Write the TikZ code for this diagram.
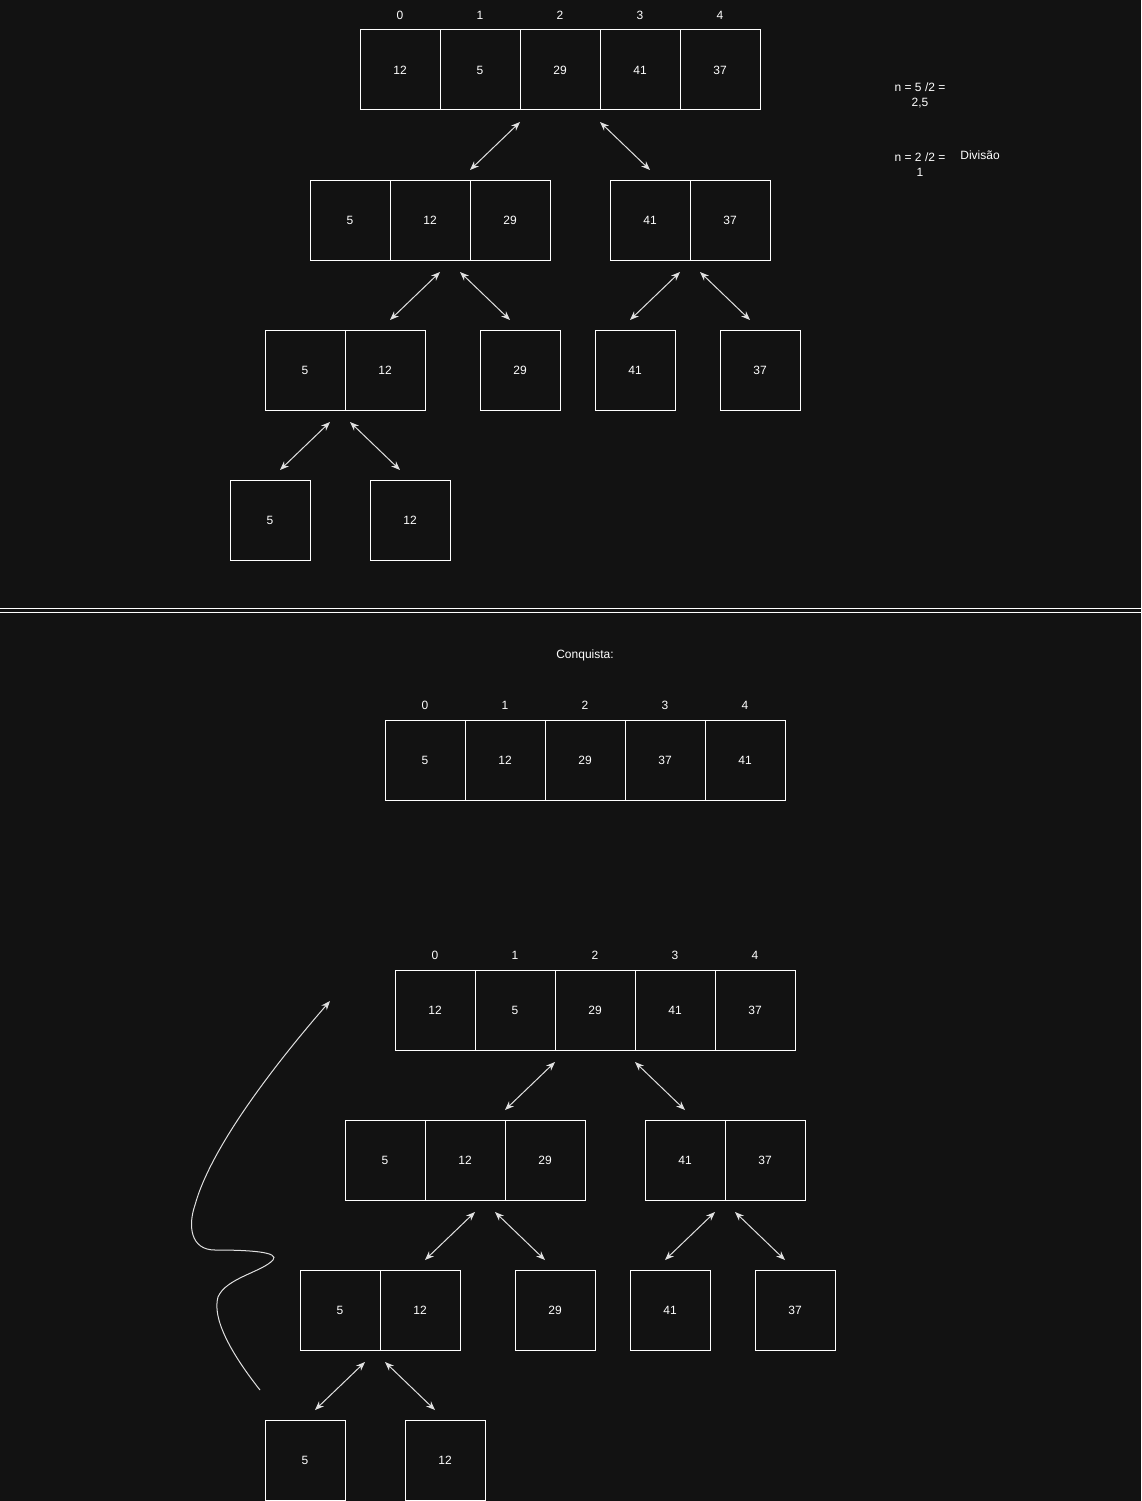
\documentclass[tikz,border=0pt]{standalone}
\usepackage{fontspec}
\setmainfont{Liberation Sans}
\usetikzlibrary{arrows.meta,positioning,calc}
\definecolor{bg}{HTML}{121212}
\definecolor{wire}{HTML}{E0E0E0}

\begin{document}
\begin{tikzpicture}[x=1pt,y=-1pt,
  every node/.style={text=white,font=\fontsize{12}{15}\selectfont},
  cell/.style={draw=white,line width=1pt,minimum size=80pt,inner sep=0pt,outer sep=0pt},
  idx/.style={inner sep=0pt},
  split/.style={wire,line width=1pt,{Stealth[length=9pt,width=7pt]}-{Stealth[length=9pt,width=7pt]}}]
  \fill[bg] (0,0) rectangle (1141,1501);
  \useasboundingbox (0,0) rectangle (1141,1501);

  % Divisao (u) and the same tree again below (w)
  \foreach \p/\ox/\oy in {u/0/0,w/35/940}{
    % whole array
    \node[cell] (\p-t0) at (\ox+400,\oy+70) {12};
    \foreach \v [count=\i, evaluate=\i as \j using int(\i-1)] in {5,29,41,37}
      \node[cell,right=0pt of \p-t\j] (\p-t\i) {\v};
    \foreach \i in {0,...,4}
      \node[idx,above=10pt of \p-t\i] (\p-n\i) {\i};

    % first split
    \node[cell] (\p-a0) at (\ox+350,\oy+220) {5};
    \node[cell,right=0pt of \p-a0] (\p-a1) {12};
    \node[cell,right=0pt of \p-a1] (\p-a2) {29};
    \node[cell] (\p-b0) at (\ox+650,\oy+220) {41};
    \node[cell,right=0pt of \p-b0] (\p-b1) {37};
    \draw[split] ($(\p-t2.south west)+(0,12)$) -- ($(\p-a1.north east)+(0,-10)$);
    \draw[split] ($(\p-t3.south west)+(0,12)$) -- ($(\p-b0.north)+(0,-10)$);

    % second split
    \node[cell] (\p-c0) at (\ox+305,\oy+370) {5};
    \node[cell,right=0pt of \p-c0] (\p-c1) {12};
    \node[cell] (\p-d) at (\ox+520,\oy+370) {29};
    \node[cell] (\p-e) at (\ox+635,\oy+370) {41};
    \node[cell] (\p-f) at (\ox+760,\oy+370) {37};
    \draw[split] ($(\p-a1.south)+(10,12)$) -- ($(\p-c1.north)+(5,-10)$);
    \draw[split] ($(\p-a1.south)+(30,12)$) -- ($(\p-d.north)+(-10,-10)$);
    \draw[split] ($(\p-b0.south)+(30,12)$) -- ($(\p-e.north)+(-5,-10)$);
    \draw[split] ($(\p-b1.south)+(-30,12)$) -- ($(\p-f.north)+(-10,-10)$);

    % third split
    \node[cell] (\p-g) at (\ox+270,\oy+520) {5};
    \node[cell] (\p-h) at (\ox+410,\oy+520) {12};
    \draw[split] ($(\p-c0.south)+(25,12)$) -- ($(\p-g.north)+(10,-10)$);
    \draw[split] ($(\p-c1.south)+(-35,12)$) -- ($(\p-h.north)+(-10,-10)$);
  }

  % notes
  \node[align=center] (n1) at (920,95) {n = 5 /2 =\\2,5};
  \node[align=center] (n2) at (920,165) {n = 2 /2 =\\1};
  \node (div) at (980,155) {Divisão};

  % separator
  \draw[white,line width=1pt] (0,608) -- (1141,608);
  \draw[white,line width=1pt] (0,612) -- (1141,612);

  % Conquista
  \node (conq) at (585,655) {Conquista:};
  \node[cell] (k0) at (425,760) {5};
  \foreach \v [count=\i, evaluate=\i as \j using int(\i-1)] in {12,29,37,41}
    \node[cell,right=0pt of k\j] (k\i) {\v};
  \foreach \i in {0,...,4}
    \node[idx,above=10pt of k\i] (kn\i) {\i};

  % way back up
  \coordinate (back-s) at (260,1390);
  \coordinate (back-e) at (330,1001);
  \draw[wire,line width=1pt,-{Stealth[length=9pt,width=7pt]}] (back-s)
    .. controls (230,1352) and (212,1318) .. (218,1297)
    .. controls (226,1278) and (262,1272) .. (273,1260)
    .. controls (280,1252) and (250,1250) .. (215,1250)
    .. controls (190,1250) and (188,1225) .. (195,1205)
    .. controls (210,1150) and (270,1070) .. (back-e);
\end{tikzpicture}
\end{document}
